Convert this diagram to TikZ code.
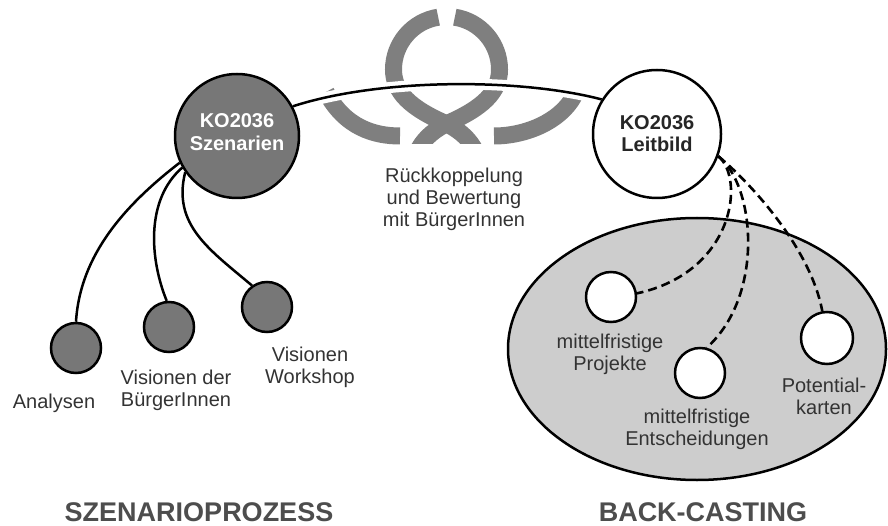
\documentclass[tikz,border=0pt]{standalone}
\usepackage{fontspec}
\setmainfont{Liberation Sans}
\usetikzlibrary{shapes.geometric}
\pgfdeclarelayer{bg}
\pgfsetlayers{bg,main}
\definecolor{symgray}{HTML}{7F7F7F}
\definecolor{darkfill}{HTML}{777777}
\definecolor{ellfill}{HTML}{CDCDCD}
\definecolor{txt}{HTML}{333333}
\definecolor{ttl}{HTML}{4D4D4D}
\def\mylines#1{\vtop{\halign{\hfil##\hfil\cr#1\crcr}}}
\begin{document}
\begin{tikzpicture}[x=1pt,y=-1pt,
  lbl/.style={font=\fontsize{20}{22}\selectfont, text=txt, inner sep=0pt, anchor=base},
  big/.style={circle, draw=black, line width=2.5pt, inner sep=0pt},
  small/.style={circle, draw=black, line width=2.5pt, minimum size=50pt, inner sep=0pt},
  conn/.style={draw=black, line width=2.5pt},
  dconn/.style={draw=black, line width=2.6pt, dash pattern=on 9pt off 5pt},
  sym/.style={draw=symgray, line width=17pt},
  title/.style={font=\bfseries\fontsize{27}{30}\selectfont, text=ttl, inner sep=0pt, anchor=base}]

\useasboundingbox (0,0) rectangle (888,526);

% back-casting ellipse
\node[ellipse, draw=black, fill=ellfill, line width=2.5pt, minimum width=378pt, minimum height=262pt, inner sep=0pt] (bc) at (697,349) {};

% main circles
\node[big, fill=darkfill, minimum size=124pt] (sz) at (237,136) {};
\node[big, fill=white, minimum size=128pt] (lb) at (657,134) {};
\node[lbl, text=white, font=\bfseries\fontsize{20}{23}\selectfont] (szt) at (237,128) {\mylines{KO2036\cr Szenarien}};
\node[lbl, text=black!85, font=\bfseries\fontsize{20}{22}\selectfont] (lbt) at (657,130) {\mylines{KO2036\cr Leitbild}};

% small circles
\node[small, fill=darkfill] (an) at (76,348) {};
\node[small, fill=darkfill] (vd) at (169,327) {};
\node[small, fill=darkfill] (ws) at (267,307) {};
\node[small, fill=white] (pr) at (611,297) {};
\node[small, fill=white] (en) at (700,373) {};
\node[small, fill=white, minimum size=52pt] (pk) at (827,338) {};

% labels
\node[lbl] (anl) at (54,408) {Analysen};
\node[lbl] (vdl) at (176,384) {\mylines{Visionen der\cr BürgerInnen}};
\node[lbl] (wsl) at (310,361) {\mylines{Visionen\cr Workshop}};
\node[lbl] (rkl) at (454,183) {\mylines{Rückkoppelung\cr und Bewertung\cr mit BürgerInnen}};
\node[lbl] (prl) at (610,348) {\mylines{mittelfristige\cr Projekte}};
\node[lbl] (enl) at (697,423) {\mylines{mittelfristige\cr Entscheidungen}};
\node[lbl] (pkl) at (824,392) {\mylines{Potential-\cr karten}};
\node[title] (t1) at (199,521) {SZENARIOPROZESS};
\node[title] (t2) at (703,521) {BACK-CASTING};

% connectors
\draw[conn] (sz.205) .. controls (125,205) and (80,255) .. (an.90);
\draw[conn] (sz.210) .. controls (145,200) and (150,260) .. (vd.95);
\draw[conn] (sz.215) .. controls (172,225) and (210,250) .. (ws.125);

\draw[dconn] (lb.-20) .. controls (745,178) and (735,272) .. (pr.8);
\draw[dconn] (lb.-20) .. controls (755,185) and (765,295) .. (en.75);
\draw[dconn] (lb.-20) .. controls (745,178) and (810,245) .. (pk.100);

% feedback symbol
\begin{pgfonlayer}{bg}
  \begin{scope}
    \clip (300,0) rectangle (600,143.5);
    \draw[sym] (438.2,17.2) arc[start angle=-99, end angle=-180, radius=53]
      .. controls (393.5,92) and (410,108) .. (447,124)
      .. controls (462,132) and (470,140) .. (476,152);
    \draw[sym] (454.8,17.2) arc[start angle=-81, end angle=0, radius=53]
      .. controls (499.5,92) and (483,108) .. (446,124)
      .. controls (431,132) and (423,140) .. (417,152);
  \end{scope}
  \draw[sym] (326,92) .. controls (345,128) and (375,136) .. (400,136);
  \draw[sym] (494,136) .. controls (525,136) and (560,122) .. (574,96);
  \draw[white, line width=11pt] (sz.28) .. controls (380,78) and (520,78) .. (lb.148);
\end{pgfonlayer}
\draw[conn] (sz.28) .. controls (380,78) and (520,78) .. (lb.148);
\end{tikzpicture}
\end{document}
